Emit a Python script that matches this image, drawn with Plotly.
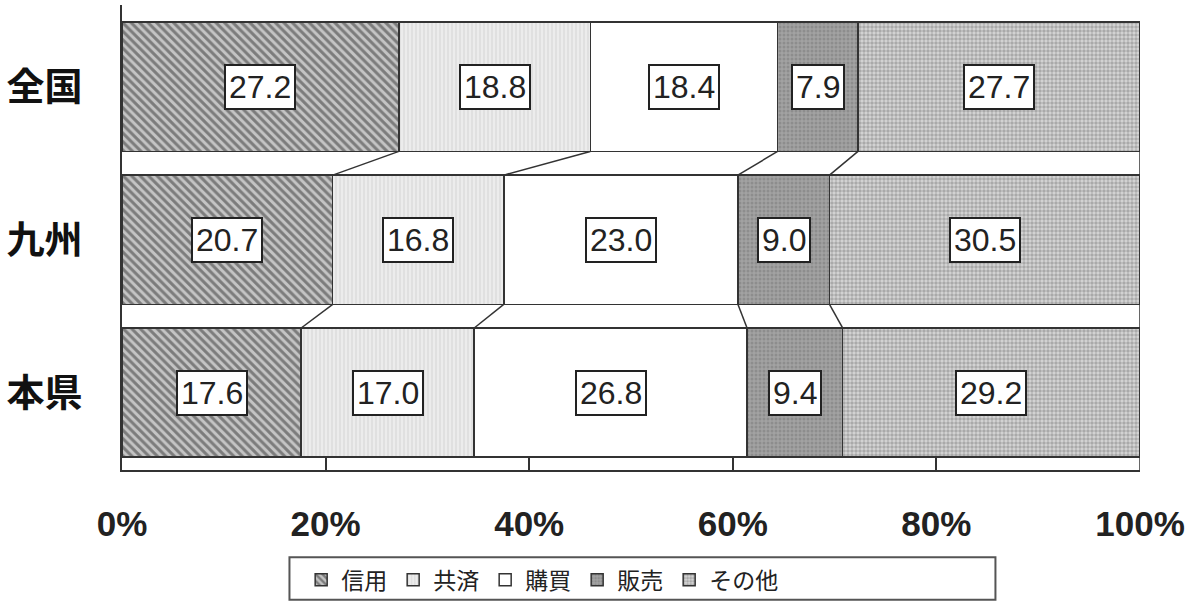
import plotly.graph_objects as go
import numpy as np

categories = ["全国", "九州", "本県"]
series_names = ["信用", "共済", "購買", "販売", "その他"]
shinyo = [27.2, 20.7, 17.6]
kyosai = [18.8, 16.8, 17.0]
kobai = [18.4, 23.0, 26.8]
hanbai = [7.9, 9.0, 9.4]
sonota = [27.7, 30.5, 29.2]
tick_vals = [0, 20, 40, 60, 80, 100]
tick_text = ["0%", "20%", "40%", "60%", "80%", "100%"]

series_values = [shinyo, kyosai, kobai, hanbai, sonota]

patterns = [
    dict(shape="\\", fgcolor="#333333", bgcolor="#c4c4c4", size=6, solidity=0.5),
    dict(shape="|", fgcolor="#cdcdcd", bgcolor="#ececec", size=4, solidity=0.4),
    dict(shape="", fgcolor="#ffffff", bgcolor="#ffffff"),
    dict(shape=".", fgcolor="#777777", bgcolor="#a2a2a2", size=4, solidity=0.45),
    dict(shape=".", fgcolor="#7c7c7c", bgcolor="#d6d6d6", size=4, solidity=0.6),
]
legend_widths = [47, 47, 47, 47, 90]

bar_w = 0.845
ypos = list(range(len(categories)))
line_col = "#333333"

fig = go.Figure()
for name, vals, pat, lw in zip(series_names, series_values, patterns, legend_widths):
    fig.add_trace(go.Bar(
        name=name, y=ypos, x=vals, orientation="h", width=bar_w,
        marker=dict(color="#ffffff", pattern=pat, line=dict(color=line_col, width=1.5)),
        hoverinfo="x+name", legendwidth=lw,
    ))

# connector lines between stacked boundaries
cum = np.cumsum(np.array(series_values), axis=0)  # shape (series, categories)
cx, cy = [], []
for k in range(cum.shape[0]):
    for i in range(len(categories) - 1):
        cx += [cum[k, i], cum[k, i + 1], None]
        cy += [i + bar_w / 2, i + 1 - bar_w / 2, None]
last = len(categories) - 1
cx += [cum[-1, last], cum[-1, last], None]
cy += [last + bar_w / 2, last + 0.506, None]
fig.add_trace(go.Scatter(x=cx, y=cy, mode="lines", line=dict(color=line_col, width=1.5),
                         showlegend=False, hoverinfo="skip"))

# value labels
for k, vals in enumerate(series_values):
    for i, v in enumerate(vals):
        fig.add_annotation(
            x=cum[k, i] - v / 2, y=i, text=f"{v:.1f}", showarrow=False,
            font=dict(family="Liberation Sans, Arial, sans-serif", size=32, color="#222222"),
            bgcolor="#ffffff", bordercolor="#222222", borderwidth=2, borderpad=3,
        )

# legend frame
fig.add_shape(type="rect", xref="paper", yref="paper",
              x0=0.1645, x1=0.858, y0=-0.279, y1=-0.1876,
              line=dict(color="#555555", width=2), fillcolor="rgba(0,0,0,0)")

fig.update_layout(
    barmode="stack",
    width=1190, height=606,
    margin=dict(l=122, r=47, t=5, b=132),
    paper_bgcolor="#ffffff", plot_bgcolor="#ffffff",
    showlegend=True,
    legend=dict(orientation="h", x=0.176, xanchor="left", y=-0.236, yanchor="middle",
                font=dict(family="Noto Sans CJK JP", size=23, color="#222222"),
                bgcolor="rgba(0,0,0,0)", borderwidth=0, itemwidth=30,
                traceorder="normal"),
    xaxis=dict(range=[0, 100], tickvals=tick_vals, ticktext=tick_text,
               showgrid=False, zeroline=False, showline=True, linecolor=line_col, linewidth=2,
               ticks="inside", ticklen=12, tickwidth=2, tickcolor=line_col,
               ticklabelstandoff=22, ticklabeloverflow="allow",
               tickfont=dict(family="Liberation Sans, Arial", size=35,
                             color="#222222", weight="bold")),
    yaxis=dict(range=[2.506, -0.535], tickvals=ypos, ticktext=categories,
               showgrid=False, zeroline=False, showline=True, linecolor=line_col, linewidth=2,
               ticks="", ticklabelstandoff=30,
               tickfont=dict(family="Noto Sans CJK JP", size=38, color="#111111", weight="bold")),
)

fig.write_html("out.html", post_script="document.body.style.margin='0';",
               config={"displayModeBar": False})
